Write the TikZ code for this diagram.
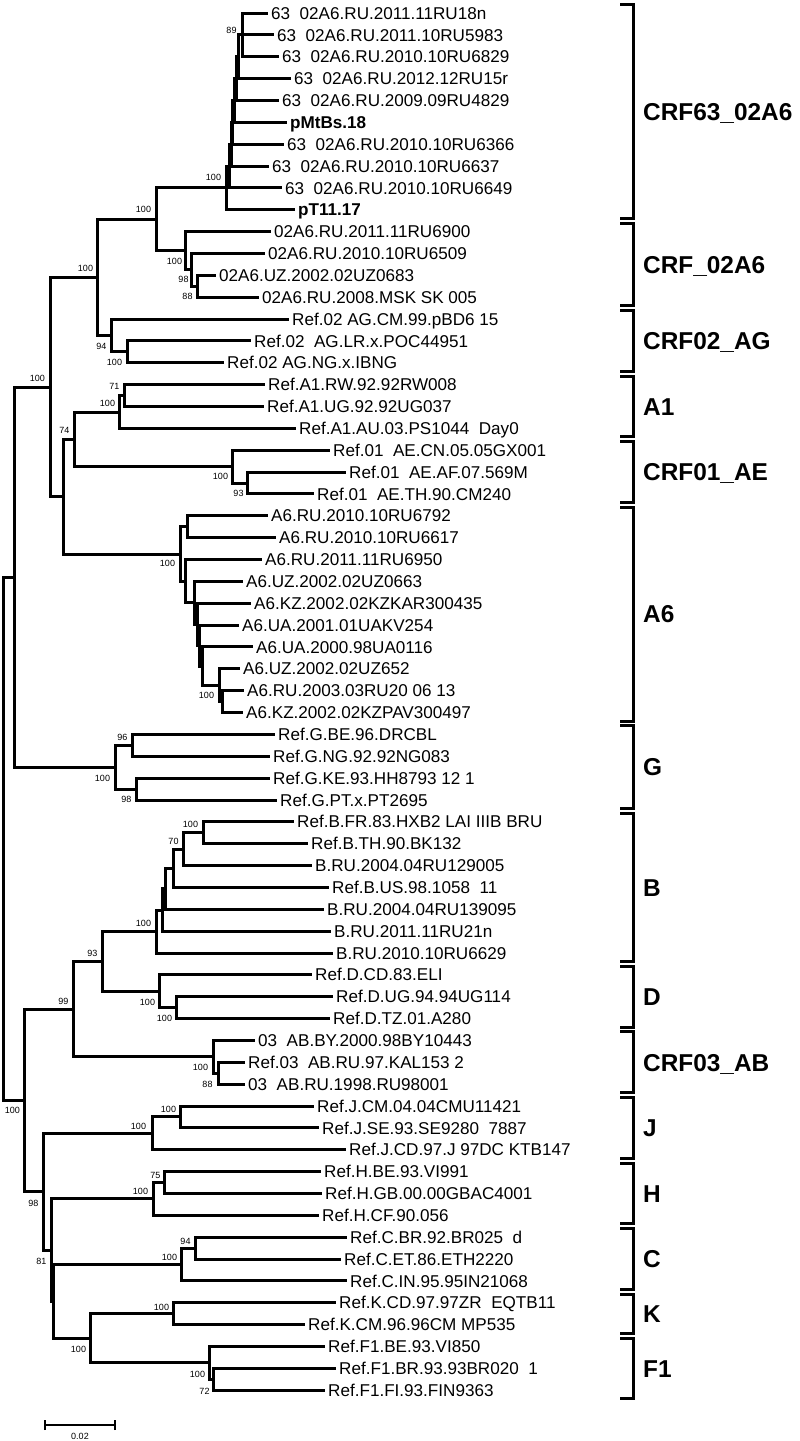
\documentclass[tikz,border=0pt]{standalone}
\usepackage{fontspec}
\setmainfont{Liberation Sans}
\newcommand\dsp{\hspace{0.556em}}
\newcommand\kid[2]{\draw[br] (#1) |- (#2);}
\begin{document}
\begin{tikzpicture}[x=1pt,y=-1pt,
 br/.style={line width=3pt, line join=miter, line cap=butt},
 leaf/.style={anchor=west, inner xsep=3.5pt, inner ysep=0pt, text height=12.2pt, text depth=0pt, font=\fontsize{17.1}{17.1}\selectfont},
 bleaf/.style={leaf, font=\fontsize{17.1}{17.1}\selectfont\bfseries},
 bs/.style={inner sep=0pt, font=\fontsize{9}{9}\selectfont},
 brk/.style={line width=3pt, line join=miter, line cap=butt},
 clade/.style={anchor=west, inner sep=0pt, text height=17.5pt, text depth=0pt, font=\fontsize{24.4}{24.4}\selectfont\bfseries},
 sbar/.style={line width=2pt}]
\useasboundingbox (0,0) rectangle (800,1441);
\begin{scope}[xshift=0.5pt]
% ---------- leaves ----------
\node[leaf] (L0) at (267,13.0) {63\dsp 02A6.RU.2011.11RU18n};
\node[leaf] (L1) at (273,34.9) {63\dsp 02A6.RU.2011.10RU5983};
\node[leaf] (L2) at (278,56.7) {63\dsp 02A6.RU.2010.10RU6829};
\node[leaf] (L3) at (290,78.6) {63\dsp 02A6.RU.2012.12RU15r};
\node[leaf] (L4) at (278,100.4) {63\dsp 02A6.RU.2009.09RU4829};
\node[bleaf] (L5) at (286,122.3) {pMtBs.18};
\node[leaf] (L6) at (283,144.2) {63\dsp 02A6.RU.2010.10RU6366};
\node[leaf] (L7) at (268,166.0) {63\dsp 02A6.RU.2010.10RU6637};
\node[leaf] (L8) at (281,187.9) {63\dsp 02A6.RU.2010.10RU6649};
\node[bleaf] (L9) at (294,209.7) {pT11.17};
\node[leaf] (L10) at (270,231.6) {02A6.RU.2011.11RU6900};
\node[leaf] (L11) at (264,253.5) {02A6.RU.2010.10RU6509};
\node[leaf] (L12) at (215,275.3) {02A6.UZ.2002.02UZ0683};
\node[leaf] (L13) at (258,297.2) {02A6.RU.2008.MSK SK 005};
\node[leaf] (L14) at (288,319.0) {Ref.02 AG.CM.99.pBD6 15};
\node[leaf] (L15) at (250,340.9) {Ref.02\dsp AG.LR.x.POC44951};
\node[leaf] (L16) at (223,362.8) {Ref.02 AG.NG.x.IBNG};
\node[leaf] (L17) at (264,384.6) {Ref.A1.RW.92.92RW008};
\node[leaf] (L18) at (263,406.5) {Ref.A1.UG.92.92UG037};
\node[leaf] (L19) at (295,428.3) {Ref.A1.AU.03.PS1044\dsp Day0};
\node[leaf] (L20) at (329,450.2) {Ref.01\dsp AE.CN.05.05GX001};
\node[leaf] (L21) at (345,472.1) {Ref.01\dsp AE.AF.07.569M};
\node[leaf] (L22) at (313,493.9) {Ref.01\dsp AE.TH.90.CM240};
\node[leaf] (L23) at (267,515.8) {A6.RU.2010.10RU6792};
\node[leaf] (L24) at (275,537.6) {A6.RU.2010.10RU6617};
\node[leaf] (L25) at (261,559.5) {A6.RU.2011.11RU6950};
\node[leaf] (L26) at (242,581.4) {A6.UZ.2002.02UZ0663};
\node[leaf] (L27) at (250,603.2) {A6.KZ.2002.02KZKAR300435};
\node[leaf] (L28) at (238,625.1) {A6.UA.2001.01UAKV254};
\node[leaf] (L29) at (252,646.9) {A6.UA.2000.98UA0116};
\node[leaf] (L30) at (239,668.8) {A6.UZ.2002.02UZ652};
\node[leaf] (L31) at (243,690.7) {A6.RU.2003.03RU20 06 13};
\node[leaf] (L32) at (242,712.5) {A6.KZ.2002.02KZPAV300497};
\node[leaf] (L33) at (274,734.4) {Ref.G.BE.96.DRCBL};
\node[leaf] (L34) at (269,756.2) {Ref.G.NG.92.92NG083};
\node[leaf] (L35) at (269,778.1) {Ref.G.KE.93.HH8793 12 1};
\node[leaf] (L36) at (276,800.0) {Ref.G.PT.x.PT2695};
\node[leaf] (L37) at (293,821.8) {Ref.B.FR.83.HXB2 LAI IIIB BRU};
\node[leaf] (L38) at (307,843.7) {Ref.B.TH.90.BK132};
\node[leaf] (L39) at (311,865.5) {B.RU.2004.04RU129005};
\node[leaf] (L40) at (328,887.4) {Ref.B.US.98.1058\dsp 11};
\node[leaf] (L41) at (323,909.3) {B.RU.2004.04RU139095};
\node[leaf] (L42) at (330,931.1) {B.RU.2011.11RU21n};
\node[leaf] (L43) at (332,953.0) {B.RU.2010.10RU6629};
\node[leaf] (L44) at (311,974.8) {Ref.D.CD.83.ELI};
\node[leaf] (L45) at (332,996.7) {Ref.D.UG.94.94UG114};
\node[leaf] (L46) at (329,1018.6) {Ref.D.TZ.01.A280};
\node[leaf] (L47) at (254,1040.4) {03\dsp AB.BY.2000.98BY10443};
\node[leaf] (L48) at (244,1062.3) {Ref.03\dsp AB.RU.97.KAL153 2};
\node[leaf] (L49) at (244,1084.1) {03\dsp AB.RU.1998.RU98001};
\node[leaf] (L50) at (313,1106.0) {Ref.J.CM.04.04CMU11421};
\node[leaf] (L51) at (318,1127.9) {Ref.J.SE.93.SE9280\dsp 7887};
\node[leaf] (L52) at (345,1149.7) {Ref.J.CD.97.J 97DC KTB147};
\node[leaf] (L53) at (320,1171.6) {Ref.H.BE.93.VI991};
\node[leaf] (L54) at (321,1193.4) {Ref.H.GB.00.00GBAC4001};
\node[leaf] (L55) at (318,1215.3) {Ref.H.CF.90.056};
\node[leaf] (L56) at (346,1237.2) {Ref.C.BR.92.BR025\dsp d};
\node[leaf] (L57) at (340,1259.0) {Ref.C.ET.86.ETH2220};
\node[leaf] (L58) at (346,1280.9) {Ref.C.IN.95.95IN21068};
\node[leaf] (L59) at (335,1302.7) {Ref.K.CD.97.97ZR\dsp EQTB11};
\node[leaf] (L60) at (304,1324.6) {Ref.K.CM.96.96CM MP535};
\node[leaf] (L61) at (324,1346.5) {Ref.F1.BE.93.VI850};
\node[leaf] (L62) at (335,1368.3) {Ref.F1.BR.93.93BR020\dsp 1};
\node[leaf] (L63) at (324,1390.2) {Ref.F1.FI.93.FIN9363};
% ---------- internal nodes ----------
\coordinate (in1) at (242,34.9);
\coordinate (in2) at (238,56.7);
\coordinate (in3) at (236,78.6);
\coordinate (in4) at (234,100.4);
\coordinate (in5) at (232,122.3);
\coordinate (in6) at (231,144.2);
\coordinate (in7) at (229,166.0);
\coordinate (in8) at (226,187.9);
\coordinate (iT) at (197,286.3);
\coordinate (iS) at (191,269.9);
\coordinate (iR) at (185,250.7);
\coordinate (iQ) at (156,219.3);
\coordinate (iW) at (127,351.8);
\coordinate (iV) at (111,335.4);
\coordinate (iP) at (97,277.4);
\coordinate (ia1i) at (124,395.6);
\coordinate (ia1) at (119,412.0);
\coordinate (iaei) at (247,483.0);
\coordinate (iae) at (232,466.6);
\coordinate (iz74) at (74,439.3);
\coordinate (ia6a) at (187,526.7);
\coordinate (ia6h) at (222,701.6);
\coordinate (ia6g) at (219,685.2);
\coordinate (ia6f) at (202,666.1);
\coordinate (ia6e) at (199,645.6);
\coordinate (ia6d) at (197,624.4);
\coordinate (ia6c) at (194,602.9);
\coordinate (ia6b) at (185,581.2);
\coordinate (ia6) at (180,554.0);
\coordinate (iY) at (63,496.6);
\coordinate (iX) at (50,387.0);
\coordinate (ig1) at (132,745.3);
\coordinate (ig2) at (136,789.0);
\coordinate (ig0) at (115,767.2);
\coordinate (iU) at (14,577.1);
\coordinate (ib1) at (203,832.8);
\coordinate (ib2) at (183,849.2);
\coordinate (ib3) at (173,868.3);
\coordinate (ib4) at (165,888.8);
\coordinate (ib5) at (162,910.0);
\coordinate (ib6) at (156,931.5);
\coordinate (id1) at (176,1007.6);
\coordinate (id0) at (159,991.2);
\coordinate (ibd) at (102,961.4);
\coordinate (iab1) at (218,1073.2);
\coordinate (iab0) at (213,1056.8);
\coordinate (in99) at (73,1009.1);
\coordinate (ij1) at (180,1116.9);
\coordinate (ij0) at (152,1133.3);
\coordinate (ih1) at (164,1182.5);
\coordinate (ih0) at (153,1198.9);
\coordinate (ic1) at (195,1248.1);
\coordinate (ic0) at (181,1264.5);
\coordinate (ik0) at (173,1313.7);
\coordinate (if1) at (213,1379.3);
\coordinate (if0) at (209,1362.9);
\coordinate (ikf) at (90,1338.3);
\coordinate (in81b) at (53,1301.4);
\coordinate (in81a) at (51,1250.2);
\coordinate (in98) at (43,1191.7);
\coordinate (ilow) at (24,1100.4);
\coordinate (iroot) at (3,838.8);
% ---------- branches ----------
\kid{in1}{L0.west}\kid{in1}{L1.west}\kid{in1}{L2.west}
\kid{in2}{in1}\kid{in2}{L3.west}
\kid{in3}{in2}\kid{in3}{L4.west}
\kid{in4}{in3}\kid{in4}{L5.west}
\kid{in5}{in4}\kid{in5}{L6.west}
\kid{in6}{in5}\kid{in6}{L7.west}
\kid{in7}{in6}\kid{in7}{L8.west}
\kid{in8}{in7}\kid{in8}{L9.west}
\kid{iT}{L12.west}\kid{iT}{L13.west}
\kid{iS}{L11.west}\kid{iS}{iT}
\kid{iR}{L10.west}\kid{iR}{iS}
\kid{iQ}{in8}\kid{iQ}{iR}
\kid{iW}{L15.west}\kid{iW}{L16.west}
\kid{iV}{L14.west}\kid{iV}{iW}
\kid{iP}{iQ}\kid{iP}{iV}
\kid{ia1i}{L17.west}\kid{ia1i}{L18.west}
\kid{ia1}{ia1i}\kid{ia1}{L19.west}
\kid{iaei}{L21.west}\kid{iaei}{L22.west}
\kid{iae}{L20.west}\kid{iae}{iaei}
\kid{iz74}{ia1}\kid{iz74}{iae}
\kid{ia6a}{L23.west}\kid{ia6a}{L24.west}
\kid{ia6h}{L31.west}\kid{ia6h}{L32.west}
\kid{ia6g}{L30.west}\kid{ia6g}{ia6h}
\kid{ia6f}{L29.west}\kid{ia6f}{ia6g}
\kid{ia6e}{L28.west}\kid{ia6e}{ia6f}
\kid{ia6d}{L27.west}\kid{ia6d}{ia6e}
\kid{ia6c}{L26.west}\kid{ia6c}{ia6d}
\kid{ia6b}{L25.west}\kid{ia6b}{ia6c}
\kid{ia6}{ia6a}\kid{ia6}{ia6b}
\kid{iY}{iz74}\kid{iY}{ia6}
\kid{iX}{iP}\kid{iX}{iY}
\kid{ig1}{L33.west}\kid{ig1}{L34.west}
\kid{ig2}{L35.west}\kid{ig2}{L36.west}
\kid{ig0}{ig1}\kid{ig0}{ig2}
\kid{iU}{iX}\kid{iU}{ig0}
\kid{ib1}{L37.west}\kid{ib1}{L38.west}
\kid{ib2}{ib1}\kid{ib2}{L39.west}
\kid{ib3}{ib2}\kid{ib3}{L40.west}
\kid{ib4}{ib3}\kid{ib4}{L41.west}
\kid{ib5}{ib4}\kid{ib5}{L42.west}
\kid{ib6}{ib5}\kid{ib6}{L43.west}
\kid{id1}{L45.west}\kid{id1}{L46.west}
\kid{id0}{L44.west}\kid{id0}{id1}
\kid{ibd}{ib6}\kid{ibd}{id0}
\kid{iab1}{L48.west}\kid{iab1}{L49.west}
\kid{iab0}{L47.west}\kid{iab0}{iab1}
\kid{in99}{ibd}\kid{in99}{iab0}
\kid{ij1}{L50.west}\kid{ij1}{L51.west}
\kid{ij0}{ij1}\kid{ij0}{L52.west}
\kid{ih1}{L53.west}\kid{ih1}{L54.west}
\kid{ih0}{ih1}\kid{ih0}{L55.west}
\kid{ic1}{L56.west}\kid{ic1}{L57.west}
\kid{ic0}{ic1}\kid{ic0}{L58.west}
\kid{ik0}{L59.west}\kid{ik0}{L60.west}
\kid{if1}{L62.west}\kid{if1}{L63.west}
\kid{if0}{L61.west}\kid{if0}{if1}
\kid{ikf}{ik0}\kid{ikf}{if0}
\kid{in81b}{ic0}\kid{in81b}{ikf}
\kid{in81a}{ih0}\kid{in81a}{in81b}
\kid{in98}{ij0}\kid{in98}{in81a}
\kid{ilow}{in99}\kid{ilow}{in98}
\kid{iroot}{iU}\kid{iroot}{ilow}
% ---------- bootstrap values ----------
\node[bs] (bs1) at (231,30) {89};
\node[bs] (bs2) at (213,177) {100};
\node[bs] (bs3) at (143,209) {100};
\node[bs] (bs4) at (174,261) {100};
\node[bs] (bs5) at (183,279) {98};
\node[bs] (bs6) at (187,296) {88};
\node[bs] (bs7) at (85,268) {100};
\node[bs] (bs8) at (101,346) {94};
\node[bs] (bs9) at (114,362) {100};
\node[bs] (bs10) at (37,378) {100};
\node[bs] (bs11) at (114,386) {71};
\node[bs] (bs12) at (107,403) {100};
\node[bs] (bs13) at (64,430) {74};
\node[bs] (bs14) at (220,476) {100};
\node[bs] (bs15) at (238,493) {93};
\node[bs] (bs16) at (167,563) {100};
\node[bs] (bs17) at (206,695) {100};
\node[bs] (bs18) at (122,737) {96};
\node[bs] (bs19) at (102,778) {100};
\node[bs] (bs20) at (126,799) {98};
\node[bs] (bs21) at (190,824) {100};
\node[bs] (bs22) at (173,841) {70};
\node[bs] (bs23) at (143,923) {100};
\node[bs] (bs24) at (92,953) {93};
\node[bs] (bs25) at (147,1002) {100};
\node[bs] (bs26) at (164,1018) {100};
\node[bs] (bs27) at (200,1067) {100};
\node[bs] (bs28) at (207,1084) {88};
\node[bs] (bs29) at (63,1001) {99};
\node[bs] (bs30) at (12,1110) {100};
\node[bs] (bs31) at (168,1109) {100};
\node[bs] (bs32) at (138,1126) {100};
\node[bs] (bs33) at (33,1203) {98};
\node[bs] (bs34) at (155,1175) {75};
\node[bs] (bs35) at (140,1191) {100};
\node[bs] (bs36) at (41,1261) {81};
\node[bs] (bs37) at (185,1241) {94};
\node[bs] (bs38) at (169,1257) {100};
\node[bs] (bs39) at (161,1307) {100};
\node[bs] (bs40) at (78,1349) {100};
\node[bs] (bs41) at (197,1374) {100};
\node[bs] (bs42) at (204,1391) {72};
\end{scope}
% ---------- clade brackets ----------
\foreach \t/\b/\m/\lab/\nm in {4.5/218.2/111.4/CRF63\_02A6/k1, 223.1/305.7/264.4/CRF\_02A6/k2, 310.5/371.3/340.9/CRF02\_AG/k3, 376.1/436.8/406.5/A1/k4, 441.7/502.4/472.1/CRF01\_AE/k5, 507.3/721.0/614.2/A6/k6, 725.9/808.5/767.2/G/k7, 813.3/961.5/887.4/B/k8, 966.3/1027.1/996.7/D/k9, 1031.9/1092.6/1062.3/CRF03\_AB/k10, 1097.5/1158.2/1127.9/J/k11, 1163.1/1223.8/1193.4/H/k12, 1228.7/1289.4/1259.0/C/k13, 1294.2/1333.1/1313.7/K/k14, 1338.0/1398.7/1368.3/F1/k15}{
  \draw[brk] (620,\t) -- (633.5,\t) -- (633.5,\b) -- (620,\b);
  \node[clade] (\nm) at (643,\m) {\lab};
}
% ---------- scale bar ----------
\coordinate (sb1) at (45,1425);
\coordinate (sb2) at (115,1425);
\draw[sbar] (sb1) -- (sb2);
\draw[sbar] ([yshift=-5pt]sb1) -- ([yshift=5pt]sb1);
\draw[sbar] ([yshift=-5pt]sb2) -- ([yshift=5pt]sb2);
\node[bs] (sbl) at (80,1436) {0.02};
\end{tikzpicture}
\end{document}
